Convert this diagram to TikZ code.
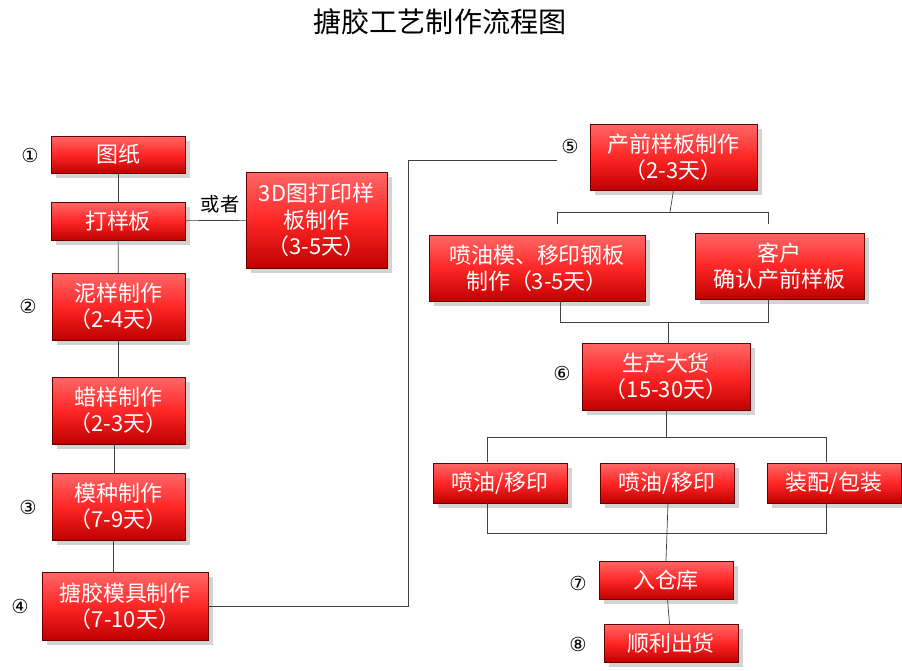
\documentclass[tikz,border=0pt]{standalone}
\usepackage{fontspec}
\setmainfont{Noto Sans CJK SC}
\newfontfamily\symfont{DejaVu Sans}
\usetikzlibrary{shadows}
\tikzset{
  box/.style={draw=red!40!black, very thin, top color=red!55!white!90!red, bottom color=red!75!black,
    middle color=red!85!white, text=white, align=center, inner sep=0pt,
    font=\fontsize{12.5}{15}\selectfont, drop shadow={opacity=0.35}},
  lnk/.style={draw=black!75, thin},
  num/.style={font=\symfont\fontsize{11}{13}\selectfont}
}
% box: name, x1, y1, x2, y2, text (pixel units)
\newcommand\rbox[6]{\node[box, minimum width={(#4-#2)*0.02cm}, minimum height={(#5-#3)*0.02cm}]
  (#1) at ({(#2+#4)/2},{(#3+#5)/2}) {#6};}
\begin{document}
\begin{tikzpicture}[x=0.02cm, y=-0.02cm]
  \useasboundingbox (0,0) rectangle (902,670);
  % title
  \node[font=\fontsize{16}{18}\selectfont] (title) at (440,22) {搪胶工艺制作流程图};

  % left column
  \rbox{tz}{51}{136}{185}{173}{图纸}
  \rbox{dyb}{51}{202}{185}{240}{打样板}
  \rbox{dp}{246}{172}{387}{268}{3D图打印样\\板制作\\（3-5天）}
  \rbox{ny}{52}{273}{185}{340}{泥样制作\\（2-4天）}
  \rbox{ly}{52}{377}{185}{444}{蜡样制作\\（2-3天）}
  \rbox{mz}{52}{473}{185}{540}{模种制作\\（7-9天）}
  \rbox{mj}{42}{572}{208}{640}{搪胶模具制作\\（7-10天）}

  % right column
  \rbox{cq}{590}{124}{757}{190}{产前样板制作\\（2-3天）}
  \rbox{py}{429}{235}{645}{301}{喷油模、移印钢板\\制作（3-5天）}
  \rbox{kh}{695}{233}{864}{299}{客户\\确认产前样板}
  \rbox{sc}{582}{343}{750}{410}{生产大货\\（15-30天）}
  \rbox{pa}{433}{463}{567}{503}{喷油/移印}
  \rbox{pb}{600}{463}{734}{503}{喷油/移印}
  \rbox{zp}{767}{463}{901}{503}{装配/包装}
  \rbox{rc}{599}{561}{733}{599}{入仓库}
  \rbox{ch}{604}{624}{738}{662}{顺利出货}

  % numbers
  \node[num] (n1) at (30,155) {①};
  \node[num] (n2) at (28,306) {②};
  \node[num] (n3) at (28,507) {③};
  \node[num] (n4) at (20,606) {④};
  \node[num] (n5) at (570,146) {⑤};
  \node[num] (n6) at (562,373) {⑥};
  \node[num] (n7) at (578,583) {⑦};
  \node[num] (n8) at (578,644) {⑧};
  \node[font=\fontsize{11}{13}\selectfont] (hz) at (220,204) {或者};

  % left links
  \draw[lnk] (tz) -- (dyb);
  \draw[lnk] (dyb) -- (ny);
  \draw[lnk] (dyb) -- (dp);
  \draw[lnk] (ny.south) -- (ly.north);
  \draw[lnk] (114,444) -- (114,473);
  \draw[lnk] (113,540) -- (113,572);
  \coordinate (e5) at (557,160);
  \draw[lnk] (mj.east) -| (408,160) -- (e5);

  % right links
  \draw[lnk] (cq.south) -- (670,212);
  \draw[lnk] (557,224) -- (557,212) -- (768,212) -- (768,224);
  \draw[lnk] (560,301) -- (560,322) -- (768,322) -- (768,299);
  \draw[lnk] (668,322) -- (668,343);
  \draw[lnk] (666,410) -- (666,437);
  \draw[lnk] (487,462) -- (487,437) -- (826,437) -- (826,462);
  \draw[lnk] (487,503) -- (487,533) -- (826,533) -- (826,503);
  \draw[lnk] (668,503) -- (rc.north);
  \draw[lnk] (rc) -- (ch);
\end{tikzpicture}
\end{document}
